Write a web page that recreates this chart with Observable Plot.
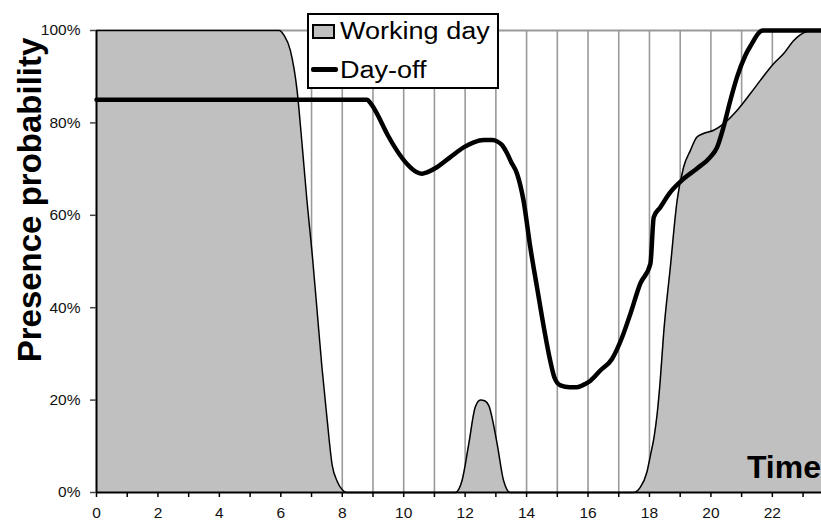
<!DOCTYPE html>
<html><head><meta charset="utf-8">
<script src="https://cdn.jsdelivr.net/npm/d3@7"></script>
<script src="https://cdn.jsdelivr.net/npm/@observablehq/plot@0.6"></script>
<style>
body{margin:0;background:#fff;}
#wrap{position:relative;width:821px;height:521px;font-family:"Liberation Sans",Arial,sans-serif;overflow:hidden;}
#wrap svg{position:absolute;left:0;top:0;}
.ylab{position:absolute;left:29px;top:200px;transform:translate(-50%,-50%) rotate(-90deg);white-space:nowrap;font-weight:bold;font-size:33px;line-height:33px;color:#000;}
.tlab{position:absolute;right:0;top:451px;font-weight:bold;font-size:32px;line-height:32px;color:#000;}
.legend{position:absolute;left:307px;top:13px;width:188px;height:72px;border:2px solid #000;background:#fff;}
.legtxt{position:absolute;left:31px;font-size:23.5px;line-height:23px;color:#000;white-space:nowrap;transform:scaleX(1.15);transform-origin:0 0;}
.sw1{position:absolute;left:3px;top:9px;width:19px;height:11px;border:2px solid #000;background:#c0c0c0;}
.sw2{position:absolute;left:2px;top:52px;width:27px;height:5px;background:#000;border-radius:2px;}
</style></head><body><div id="wrap"></div>
<script>
const workHours = [0, 5.95, 6.1, 6.31, 6.53, 6.69, 6.85, 7.02, 7.18, 7.34, 7.51, 7.67, 7.83, 8.0, 8.15,
  11.68, 11.9, 12.12, 12.33, 12.5, 12.65, 12.77, 13.04, 13.25, 13.47,
  17.48, 17.7, 17.92, 18.03, 18.15, 18.25, 18.35, 18.46, 18.68, 18.9, 19.11, 19.33, 19.54, 19.76, 20.09,
  20.41, 20.85, 21.28, 21.61, 22.04, 22.37, 22.69, 23.12, 23.3, 23.6];
const workValues = [1, 1, 0.99, 0.957, 0.87, 0.755, 0.632, 0.517, 0.394, 0.27, 0.156, 0.06, 0.025, 0.006, 0,
  0, 0.026, 0.106, 0.185, 0.2, 0.198, 0.188, 0.106, 0.026, 0,
  0, 0.011, 0.045, 0.08, 0.12, 0.17, 0.242, 0.343, 0.488, 0.632, 0.704, 0.74, 0.769, 0.777, 0.784,
  0.798, 0.827, 0.863, 0.892, 0.928, 0.95, 0.978, 0.998, 1, 1];
const offHours = [0, 8.8, 8.95, 9.13, 9.46, 9.78, 10.11, 10.43, 10.6, 10.76, 11.08, 11.52, 11.95, 12.28, 12.6, 12.9,
  13.04, 13.2, 13.36, 13.5, 13.69, 13.9, 14.12, 14.34, 14.56, 14.77, 14.9, 15.1, 15.4, 15.64, 15.85, 16.08,
  16.4, 16.78, 17.11, 17.38, 17.7, 18.03, 18.14, 18.35, 18.68, 19.11, 19.54, 19.98, 20.2, 20.41, 20.63,
  20.85, 21.12, 21.33, 21.61, 21.7, 23.6];
const offValues = [0.85, 0.85, 0.84, 0.82, 0.776, 0.74, 0.711, 0.693, 0.69, 0.693, 0.704, 0.726, 0.747, 0.758, 0.763, 0.763,
  0.76, 0.752, 0.735, 0.715, 0.69, 0.632, 0.531, 0.444, 0.358, 0.285, 0.25, 0.232, 0.228, 0.228, 0.233, 0.242,
  0.264, 0.289, 0.336, 0.387, 0.452, 0.495, 0.596, 0.617, 0.65, 0.679, 0.701, 0.726, 0.747, 0.791, 0.848,
  0.899, 0.946, 0.971, 0.998, 1, 1];
const gridHours = [1,2,3,4,5,6,7,8,9,10,11,12,13,14,15,16,17,18,19,20,21,22,23];
const xTicks = [0,1,2,3,4,5,6,7,8,9,10,11,12,13,14,15,16,17,18,19,20,21,22,23];
const xTickLabels = ["0","","2","","4","","6","","8","","10","","12","","14","","16","","18","","20","","22",""];
const yTicks = [0, 0.2, 0.4, 0.6, 0.8, 1];
const yTickLabels = ["0%","20%","40%","60%","80%","100%"];
const seriesNames = ["Working day", "Day-off"];
const yTitle = "Presence probability";
const xTitle = "Time";

const work = workHours.map((h, i) => ({h, v: workValues[i]}));
const off = offHours.map((h, i) => ({h, v: offValues[i]}));

const chart = Plot.plot({
  width: 821, height: 521,
  marginLeft: 96, marginTop: 30, marginBottom: 29, marginRight: 0,
  style: {fontFamily: '"Liberation Sans", Arial, sans-serif', fontSize: "15.5px", color: "#111", background: "transparent", overflow: "visible"},
  x: {domain: [0, 23.6]},
  y: {domain: [0, 1]},
  marks: [
    Plot.ruleX(gridHours, {x: d => d, y1: 0, y2: 1, stroke: "#9a9a9a", strokeWidth: 1.6}),
    Plot.ruleY([1], {stroke: "#9a9a9a", strokeWidth: 2}),
    Plot.areaY(work, {x: "h", y: "v", fill: "#c0c0c0", curve: "monotone-x"}),
    Plot.lineY(work, {x: "h", y: "v", stroke: "#000", strokeWidth: 1.5, curve: "monotone-x"}),
    Plot.lineY(off, {x: "h", y: "v", stroke: "#000", strokeWidth: 4.5, curve: "monotone-x", strokeLinejoin: "round"}),
    Plot.ruleX([0], {stroke: "#000", strokeWidth: 2}),
    Plot.ruleY([0], {stroke: "#000", strokeWidth: 2}),
    Plot.axisX(xTicks, {tickSize: 5, tickPadding: 9, tickFormat: d => xTickLabels[xTicks.indexOf(d)], label: null, stroke: "#000", strokeWidth: 1.5}),
    Plot.axisY(yTicks, {tickSize: 6, tickPadding: 10, tickFormat: d => yTickLabels[yTicks.indexOf(d)], label: null, stroke: "#444", strokeWidth: 1.5})
  ]
});
const wrap = document.getElementById("wrap");
wrap.appendChild(chart);

const yl = document.createElement("div"); yl.className = "ylab"; yl.textContent = yTitle; wrap.appendChild(yl);
const tl = document.createElement("div"); tl.className = "tlab"; tl.textContent = xTitle; wrap.appendChild(tl);
const lg = document.createElement("div"); lg.className = "legend";
lg.innerHTML = '<div class="sw1"></div><div class="legtxt" style="top:5px"></div><div class="sw2"></div><div class="legtxt" style="top:44px"></div>';
const txts = lg.querySelectorAll(".legtxt");
txts[0].textContent = seriesNames[0];
txts[1].textContent = seriesNames[1];
wrap.appendChild(lg);
</script></body></html>
